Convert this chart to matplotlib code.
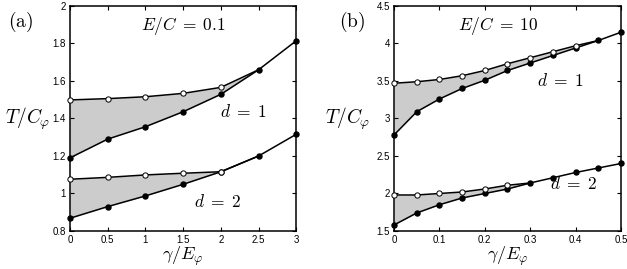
import numpy as np
import matplotlib
matplotlib.use('Agg')
import matplotlib.pyplot as plt

plt.rcParams['mathtext.fontset'] = 'cm'
plt.rcParams['font.family'] = 'Liberation Sans'

# panel (a): E/C = 0.1
gam_a = [0, 0.5, 1, 1.5, 2, 2.5, 3]
a_d1_full = [1.19, 1.29, 1.356, 1.436, 1.529, 1.66, 1.815]
a_d1_open = [1.499, 1.506, 1.516, 1.534, 1.566]
a_d2_full = [0.868, 0.93, 0.987, 1.049, 1.116, 1.20, 1.316]
a_d2_open = [1.076, 1.086, 1.099, 1.108, 1.116]

# panel (b): E/C = 10
gam_b = [0, 0.05, 0.1, 0.15, 0.2, 0.25, 0.3, 0.35, 0.4, 0.45, 0.5]
b_d1_full = [2.78, 3.09, 3.26, 3.40, 3.51, 3.64, 3.74, 3.84, 3.94, 4.04, 4.15]
b_d1_open = [3.47, 3.49, 3.52, 3.57, 3.64, 3.73, 3.81, 3.89, 3.97]
b_d2_full = [1.58, 1.74, 1.85, 1.94, 2.00, 2.06, 2.14, 2.21, 2.28, 2.34, 2.40]
b_d2_open = [1.98, 1.98, 2.00, 2.02, 2.06, 2.11]


def draw_branch(ax, x, full, opn):
    n = len(opn)
    # open curve runs on until it meets the full curve at the next point
    xo = list(x[:n + 1])
    yo = list(opn) + [full[n]]
    ax.fill_between(xo, full[:n + 1], yo, color='#cccccc', lw=0, zorder=1)
    ax.plot(x, full, '-', color='black', lw=1.1, zorder=2)
    ax.plot(xo, yo, '-', color='black', lw=1.1, zorder=2)
    ax.plot(x, full, 'o', color='black', ms=3.6, zorder=3, clip_on=False)
    ax.plot(x[:n], opn, 'o', mfc='white', mec='black', mew=0.7, ms=3.8,
            zorder=4, clip_on=False)


fig = plt.figure(figsize=(6.27, 2.69), dpi=100)
ax1 = fig.add_axes([0.1116, 0.1413, 0.361, 0.8364])
ax2 = fig.add_axes([0.6284, 0.1413, 0.362, 0.8364])

draw_branch(ax1, gam_a, a_d1_full, a_d1_open)
draw_branch(ax1, gam_a, a_d2_full, a_d2_open)
draw_branch(ax2, gam_b, b_d1_full, b_d1_open)
draw_branch(ax2, gam_b, b_d2_full, b_d2_open)

ax1.set_xlim(0, 3)
ax1.set_ylim(0.8, 2)
ax1.set_xticks([0, 0.5, 1, 1.5, 2, 2.5, 3])
ax1.set_xticklabels(['0', '0.5', '1', '1.5', '2', '2.5', '3'])
ax1.set_yticks([0.8, 1, 1.2, 1.4, 1.6, 1.8, 2])
ax1.set_yticklabels(['0.8', '1', '1.2', '1.4', '1.6', '1.8', '2'])

ax2.set_xlim(0, 0.5)
ax2.set_ylim(1.5, 4.5)
ax2.set_xticks([0, 0.1, 0.2, 0.3, 0.4, 0.5])
ax2.set_xticklabels(['0', '0.1', '0.2', '0.3', '0.4', '0.5'])
ax2.set_yticks([1.5, 2, 2.5, 3, 3.5, 4, 4.5])
ax2.set_yticklabels(['1.5', '2', '2.5', '3', '3.5', '4', '4.5'])

for ax in (ax1, ax2):
    for s in ax.spines.values():
        s.set_linewidth(1.1)
    ax.tick_params(direction='in', length=3, width=0.8, labelsize=7,
                   top=True, right=True, pad=3)
    ax.set_xlabel(r'$\gamma/E_\varphi$', fontsize=13, labelpad=0)
    ax.set_ylabel(r'$T/C_\varphi$', fontsize=14, rotation=0, va='center',
                  ha='center')

ax1.yaxis.set_label_coords(-0.185, 0.5)
ax2.yaxis.set_label_coords(-0.205, 0.5)

ax1.text(0.5, 0.91, r'$E/C\;=\;0.1$', transform=ax1.transAxes, fontsize=12.5,
         ha='center', va='center')
ax2.text(0.46, 0.91, r'$E/C\;=\;10$', transform=ax2.transAxes, fontsize=12.5,
         ha='center', va='center')
ax1.text(2.3, 1.435, r'$d\;=\;1$', fontsize=12.5, ha='center', va='center')
ax1.text(1.95, 0.955, r'$d\;=\;2$', fontsize=12.5, ha='center', va='center')
ax2.text(0.365, 3.5, r'$d\;=\;1$', fontsize=12.5, ha='center', va='center')
ax2.text(0.395, 2.13, r'$d\;=\;2$', fontsize=12.5, ha='center', va='center')

fig.text(21 / 627, 1 - 22 / 269, r'$(\mathrm{a})$', fontsize=14, ha='center',
         va='center')
fig.text(352 / 627, 1 - 22 / 269, r'$(\mathrm{b})$', fontsize=14, ha='center',
         va='center')

fig.savefig('out.png', dpi=100)
